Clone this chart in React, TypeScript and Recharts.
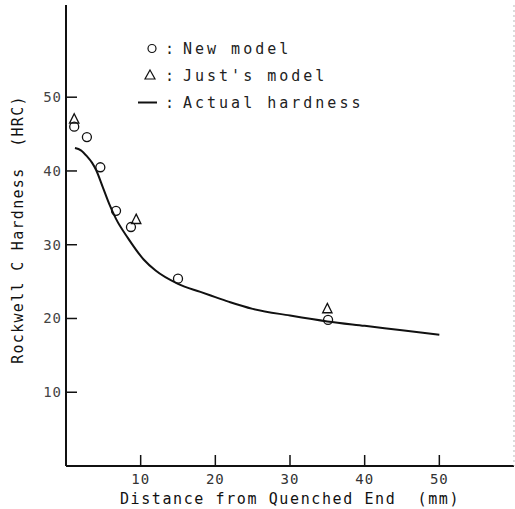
import React from "react";
import { ComposedChart, Line, Scatter, XAxis, YAxis, Legend } from "recharts";

// Actual hardness curve
const curveX = [1.2, 2, 2.8, 3.5, 4, 5, 5.8, 6.7, 8.3, 10.4, 12, 15, 18, 20, 22, 25, 30, 35, 40, 45, 50];
const curveY = [43.1, 42.8, 42.0, 41.1, 40.2, 37.6, 35.5, 33.5, 30.9, 28.0, 26.5, 24.7, 23.6, 22.9, 22.2, 21.3, 20.4, 19.6, 19.0, 18.4, 17.8];

// New model (circles)
const newModelX = [1.1, 2.8, 4.6, 6.7, 8.7, 15, 35.1];
const newModelY = [46.0, 44.6, 40.5, 34.6, 32.4, 25.4, 19.8];

// Just's model (triangles)
const justX = [1.1, 9.4, 35];
const justY = [47.0, 33.4, 21.3];

const xTicks = [10, 20, 30, 40, 50];
const yTicks = [10, 20, 30, 40, 50];
const legendLabels = ["New model", "Just's model", "Actual hardness"];

const FONT = '"DejaVu Sans Mono", monospace';
const INK = "#111";

const curve = curveX.map((x, i) => ({ x, y: curveY[i] }));
const newModel = newModelX.map((x, i) => ({ x, y: newModelY[i] }));
const justModel = justX.map((x, i) => ({ x, y: justY[i] }));

function OpenCircle(props: any) {
  const { cx, cy } = props;
  return <circle cx={cx} cy={cy} r={4.5} fill="none" stroke={INK} strokeWidth={1.3} />;
}

function OpenTriangle(props: any) {
  const { cx, cy } = props;
  const s = 5.5;
  return (
    <polygon
      points={`${cx},${cy - s} ${cx + s * 0.85},${cy + s * 0.7} ${cx - s * 0.85},${cy + s * 0.7}`}
      fill="none"
      stroke={INK}
      strokeWidth={1.3}
    />
  );
}

function LegendBox() {
  const marks = [
    <circle cx={17} cy={13.5} r={4} fill="none" stroke={INK} strokeWidth={1.2} />,
    <polygon points="15,8 20,17 10,17" fill="none" stroke={INK} strokeWidth={1.2} />,
    <line x1={3} y1={13.5} x2={22} y2={13.5} stroke={INK} strokeWidth={2} />,
  ];
  return (
    <div style={{ fontFamily: FONT, fontSize: 15, color: "#222", letterSpacing: 3 }}>
      {legendLabels.map((label, i) => (
        <div key={label} style={{ display: "flex", alignItems: "center", height: 27 }}>
          <svg width={26} height={27} style={{ display: "block" }}>
            {marks[i]}
          </svg>
          <span style={{ width: 18, paddingLeft: 4, display: "inline-block" }}>:</span>
          <span style={{ whiteSpace: "pre" }}>{label}</span>
        </div>
      ))}
    </div>
  );
}

function YTitle(props: any) {
  const vb = props.viewBox || { x: 0, y: 0, width: 0, height: 0 };
  const x = vb.x + 23;
  const y = vb.y + vb.height / 2 - 6;
  return (
    <text
      x={x}
      y={y}
      transform={`rotate(-90 ${x} ${y})`}
      textAnchor="middle"
      fontFamily={FONT}
      fontSize={15}
      letterSpacing={1.3}
      fill={INK}
      style={{ whiteSpace: "pre" }}
    >
      Rockwell C Hardness  (HRC)
    </text>
  );
}

export default function App() {
  return (
    <div style={{ position: "absolute", left: 0, top: 0, width: 515, height: 509, background: "#fff" }}>
      <ComposedChart width={515} height={509} margin={{ top: 5, right: 0, bottom: 0, left: 0 }}>
        <XAxis
          dataKey="x"
          type="number"
          domain={[0, 60]}
          ticks={xTicks}
          allowDataOverflow
          height={43}
          tickSize={-11}
          tickMargin={19}
          axisLine={{ stroke: INK, strokeWidth: 2 }}
          tickLine={{ stroke: INK, strokeWidth: 1.5 }}
          tick={{ fill: "#333", fontSize: 14, fontFamily: FONT, letterSpacing: 1 }}
          label={{
            value: "Distance from Quenched End\u00A0 (mm)",
            position: "insideBottom",
            offset: 5,
            fill: INK,
            fontSize: 15,
            fontFamily: FONT,
            letterSpacing: 1.6,
          }}
        />
        <XAxis
          xAxisId="top"
          orientation="top"
          type="number"
          domain={[0, 60]}
          height={0}
          tick={false}
          tickLine={false}
          axisLine={{ stroke: "#333", strokeWidth: 1.5 }}
        />
        <YAxis
          dataKey="y"
          type="number"
          domain={[0, 62.5]}
          ticks={yTicks}
          allowDataOverflow
          width={66}
          tickSize={-11}
          tickMargin={15}
          axisLine={{ stroke: INK, strokeWidth: 2 }}
          tickLine={{ stroke: INK, strokeWidth: 1.5 }}
          tick={{ fill: "#444", fontSize: 14, fontFamily: FONT, letterSpacing: 1 }}
          label={{ content: YTitle }}
        />
        <YAxis
          yAxisId="right"
          orientation="right"
          type="number"
          domain={[0, 62.5]}
          width={1}
          tick={false}
          tickLine={false}
          axisLine={{ stroke: "#bbb", strokeWidth: 1, strokeDasharray: "2 3" }}
        />
        <Legend
          layout="vertical"
          verticalAlign="middle"
          align="center"
          content={() => <LegendBox />}
          wrapperStyle={{ left: 135, top: 35, width: 260 }}
        />
        <Line
          data={curve}
          dataKey="y"
          name="Actual hardness"
          type="monotone"
          stroke={INK}
          strokeWidth={2}
          dot={false}
          isAnimationActive={false}
        />
        <Scatter data={newModel} dataKey="y" name="New model" shape={OpenCircle} isAnimationActive={false} />
        <Scatter data={justModel} dataKey="y" name="Just's model" shape={OpenTriangle} isAnimationActive={false} />
      </ComposedChart>
    </div>
  );
}
